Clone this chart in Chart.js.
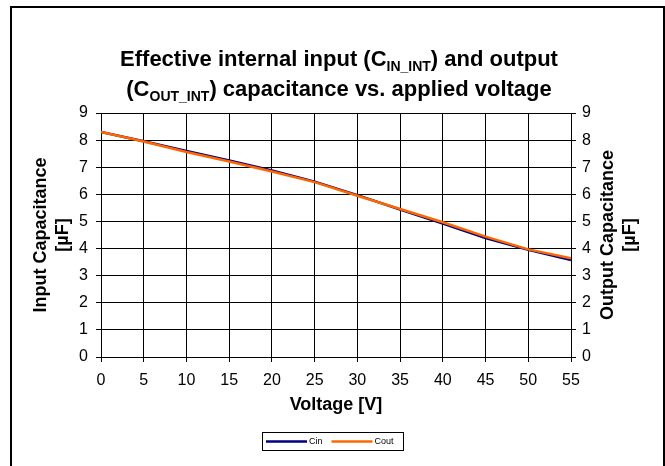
<!DOCTYPE html>
<html>
<head>
<meta charset="utf-8">
<script src="https://cdn.jsdelivr.net/npm/chart.js@4"></script>
<style>
  body { margin: 0; background: #fff; }
  canvas { display: block; }
</style>
</head>
<body>
<canvas id="capChart" width="665" height="466"></canvas>
<script>
// values
var voltage = [0, 5, 10, 15, 20, 25, 30, 35, 40, 45, 50, 55];
var cin = [8.30, 7.96, 7.60, 7.25, 6.88, 6.47, 5.97, 5.44, 4.92, 4.39, 3.95, 3.58];
var cout = [8.30, 7.95, 7.56, 7.21, 6.84, 6.45, 5.95, 5.46, 4.97, 4.44, 3.97, 3.64];
var seriesNames = ['Cin', 'Cout'];
var seriesColors = ['#000080', '#FF6600'];

var FONT = "'Liberation Sans', Arial, sans-serif";

function toPoints(xs, ys) {
    return xs.map(function (x, i) { return { x: x, y: ys[i] }; });
}

// draws a line of text made of normal and subscript parts, centred on cx
function drawRichLine(ctx, parts, cx, baseline) {
    var big = 'bold 22px ' + FONT;
    var small = 'bold 14px ' + FONT;
    var total = 0;
    parts.forEach(function (p) {
        ctx.font = p.sub ? small : big;
        p.w = ctx.measureText(p.t).width;
        total += p.w;
    });
    var x = cx - total / 2;
    parts.forEach(function (p) {
        ctx.font = p.sub ? small : big;
        ctx.fillText(p.t, x, p.sub ? baseline + 5 : baseline);
        x += p.w;
    });
}

var textPlugin = {
    id: 'textPlugin',
    beforeDraw: function (chart) {
        var ctx = chart.ctx;
        ctx.save();
        ctx.fillStyle = '#fff';
        ctx.fillRect(0, 0, chart.width, chart.height);
        //outer frame (bottom edge is outside the picture)
        ctx.strokeStyle = '#000';
        ctx.lineWidth = 2;
        ctx.beginPath();
        ctx.moveTo(11, 470);
        ctx.lineTo(11, 7);
        ctx.lineTo(664, 7);
        ctx.lineTo(664, 470);
        ctx.stroke();
        ctx.restore();
    },
    afterDraw: function (chart) {
        var ctx = chart.ctx;
        var area = chart.chartArea;
        var midY = (area.top + area.bottom) / 2;
        ctx.save();
        ctx.fillStyle = '#000';
        ctx.textBaseline = 'alphabetic';
        ctx.textAlign = 'left';

        //main title with subscripts
        drawRichLine(ctx, [
            { t: 'Effective internal input (C' },
            { t: 'IN_INT', sub: true },
            { t: ') and output' }
        ], 339, 66);
        drawRichLine(ctx, [
            { t: '(C' },
            { t: 'OUT_INT', sub: true },
            { t: ') capacitance vs. applied voltage' }
        ], 339, 96);

        //axis titles
        ctx.font = 'bold 18px ' + FONT;
        ctx.textAlign = 'center';
        ctx.textBaseline = 'middle';
        ctx.fillText('Voltage [V]', (area.left + area.right) / 2, 405);

        function vText(lines, x1, x2) {
            ctx.save();
            ctx.translate(x1, midY);
            ctx.rotate(-Math.PI / 2);
            ctx.fillText(lines[0], 0, 0);
            ctx.fillText(lines[1], 0, x2 - x1);
            ctx.restore();
        }
        vText(['Input Capacitance', '[µF]'], 41, 63);
        vText(['Output Capacitance', '[µF]'], 608, 630);

        //legend with a box round it
        var boxL = 262, boxT = 432, boxR = 403, boxB = 450;
        ctx.lineWidth = 1;
        ctx.strokeStyle = '#000';
        ctx.strokeRect(boxL + 0.5, boxT + 0.5, boxR - boxL, boxB - boxT);
        ctx.font = '9px ' + FONT;
        ctx.textAlign = 'left';
        var x = boxL + 4;
        var cy = (boxT + boxB) / 2 + 0.5;
        chart.data.datasets.forEach(function (ds) {
            ctx.strokeStyle = ds.borderColor;
            ctx.lineWidth = 2.5;
            ctx.beginPath();
            ctx.moveTo(x, cy);
            ctx.lineTo(x + 41, cy);
            ctx.stroke();
            ctx.fillText(ds.label, x + 43, cy);
            x += 43 + ctx.measureText(ds.label).width + 9;
        });
        ctx.restore();
    }
};

var tickFont = { family: FONT, size: 16 };

var chart = new Chart(document.getElementById('capChart'), {
    type: 'line',
    data: {
        datasets: [
            {
                label: seriesNames[0],
                data: toPoints(voltage, cin),
                borderColor: seriesColors[0],
                borderWidth: 2.5,
                pointRadius: 0,
                tension: 0,
                yAxisID: 'y',
                order: 2
            },
            {
                label: seriesNames[1],
                data: toPoints(voltage, cout),
                borderColor: seriesColors[1],
                borderWidth: 2.5,
                pointRadius: 0,
                tension: 0,
                yAxisID: 'y',
                order: 1
            }
        ]
    },
    options: {
        responsive: false,
        devicePixelRatio: 1,
        animation: false,
        events: [],
        layout: { padding: { top: 113, left: 0, right: 0, bottom: 0 } },
        plugins: {
            legend: { display: false },
            title: { display: false },
            tooltip: { enabled: false }
        },
        scales: {
            x: {
                type: 'linear',
                min: 0,
                max: 55,
                afterFit: function (s) { s.height = 109; },
                ticks: { stepSize: 5, color: '#000', font: tickFont, padding: 9, maxRotation: 0 },
                grid: { color: '#000', tickLength: 5 },
                border: { color: '#000', width: 1 }
            },
            y: {
                position: 'left',
                min: 0,
                max: 9,
                afterFit: function (s) { s.width = 101; },
                ticks: { stepSize: 1, color: '#000', font: tickFont, padding: 8 },
                grid: { color: '#000', tickLength: 5 },
                border: { color: '#000', width: 1 }
            },
            y2: {
                position: 'right',
                min: 0,
                max: 9,
                afterFit: function (s) { s.width = 94; },
                ticks: { stepSize: 1, color: '#000', font: tickFont, padding: 6 },
                grid: { drawOnChartArea: false, color: '#000', tickLength: 5 },
                border: { color: '#000', width: 1 }
            }
        }
    },
    plugins: [textPlugin]
});
</script>
</body>
</html>
